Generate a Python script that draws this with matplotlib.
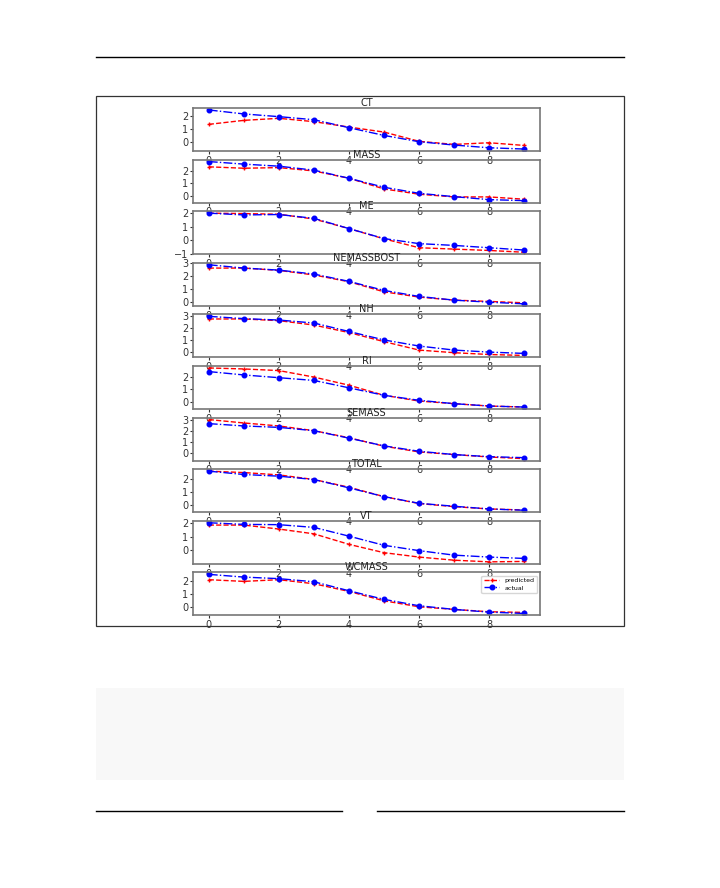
import matplotlib
matplotlib.use("Agg")
import matplotlib.pyplot as plt
from matplotlib.ticker import MultipleLocator
from matplotlib.lines import Line2D
from matplotlib.patches import Rectangle
import numpy as np

# Dados (10 passos por série)
steps = list(range(10))
names = ["CT", "MASS", "ME", "NEMASSBOST", "NH", "RI", "SEMASS", "TOTAL", "VT", "WCMASS"]

actual_ct = [2.47, 2.16, 1.95, 1.71, 1.09, 0.49, 0.0, -0.26, -0.47, -0.57]
pred_ct = [1.35, 1.66, 1.82, 1.56, 1.14, 0.75, 0.03, -0.21, -0.08, -0.29]
actual_mass = [2.70, 2.50, 2.34, 2.03, 1.40, 0.70, 0.23, -0.03, -0.26, -0.34]
pred_mass = [2.29, 2.18, 2.23, 1.97, 1.40, 0.57, 0.16, -0.05, -0.05, -0.23]
actual_me = [1.98, 1.85, 1.88, 1.60, 0.85, 0.12, -0.25, -0.38, -0.55, -0.72]
pred_me = [1.98, 1.95, 1.90, 1.55, 0.85, 0.10, -0.55, -0.65, -0.75, -0.88]
actual_nemassbost = [2.90, 2.64, 2.48, 2.17, 1.60, 0.89, 0.42, 0.13, -0.03, -0.16]
pred_nemassbost = [2.64, 2.64, 2.46, 2.10, 1.57, 0.78, 0.37, 0.13, 0.03, -0.08]
actual_nh = [2.97, 2.78, 2.66, 2.41, 1.70, 0.99, 0.48, 0.14, -0.03, -0.14]
pred_nh = [2.75, 2.75, 2.61, 2.24, 1.61, 0.85, 0.14, -0.08, -0.23, -0.31]
actual_ri = [2.41, 2.14, 1.92, 1.70, 1.11, 0.51, 0.11, -0.16, -0.35, -0.43]
pred_ri = [2.70, 2.62, 2.49, 1.97, 1.32, 0.51, 0.05, -0.16, -0.35, -0.43]
actual_semass = [2.63, 2.42, 2.29, 1.99, 1.31, 0.61, 0.12, -0.18, -0.37, -0.46]
pred_semass = [3.00, 2.69, 2.42, 1.99, 1.35, 0.58, 0.06, -0.18, -0.40, -0.55]
actual_total = [2.60, 2.34, 2.21, 1.95, 1.30, 0.62, 0.10, -0.13, -0.34, -0.44]
pred_total = [2.60, 2.49, 2.31, 1.95, 1.35, 0.62, 0.08, -0.16, -0.34, -0.42]
actual_vt = [2.02, 1.90, 1.88, 1.68, 1.04, 0.37, -0.02, -0.35, -0.49, -0.59]
pred_vt = [1.85, 1.85, 1.56, 1.21, 0.44, -0.17, -0.49, -0.72, -0.84, -0.81]
actual_wcmass = [2.54, 2.33, 2.21, 1.97, 1.28, 0.62, 0.13, -0.15, -0.36, -0.46]
pred_wcmass = [2.13, 2.00, 2.13, 1.82, 1.23, 0.51, 0.05, -0.15, -0.33, -0.38]

actuals = [actual_ct, actual_mass, actual_me, actual_nemassbost, actual_nh,
           actual_ri, actual_semass, actual_total, actual_vt, actual_wcmass]
preds = [pred_ct, pred_mass, pred_me, pred_nemassbost, pred_nh,
         pred_ri, pred_semass, pred_total, pred_vt, pred_wcmass]

W, H = 720, 888
fig = plt.figure(figsize=(W / 100, H / 100), dpi=100)


def fx(px):
    return px / W


def fy(py):
    return 1 - py / H


# Elementos da página (linha do cabeçalho, moldura, caixa cinza, rodapé)
fig.add_artist(Line2D([fx(96), fx(624)], [fy(57), fy(57)], color="black", lw=1.0))
fig.add_artist(Rectangle((fx(96), fy(626)), fx(624) - fx(96), fy(96) - fy(626),
                         fill=False, edgecolor="#333333", lw=0.9))
fig.add_artist(Rectangle((fx(96), fy(780)), fx(624) - fx(96), fy(688) - fy(780),
                         facecolor="#f8f8f8", edgecolor="none"))
fig.add_artist(Line2D([fx(96), fx(342)], [fy(811), fy(811)], color="black", lw=1.0))
fig.add_artist(Line2D([fx(377), fx(624)], [fy(811), fy(811)], color="black", lw=1.0))

# Subgráficos
left, right = 193, 540
top0, pitch, h = 108, 51.6, 43
for i, name in enumerate(names):
    top = top0 + i * pitch
    ax = fig.add_axes([fx(left), fy(top + h), fx(right) - fx(left), h / H])
    ax.patch.set_alpha(0)
    ax.plot(steps, preds[i], color="red", linestyle="--", marker="+",
            markersize=3, lw=1.0, label="predicted")
    ax.plot(steps, actuals[i], color="blue", linestyle="-.", marker="o",
            markersize=3.3, lw=1.0, label="actual")
    ax.set_title(name, fontsize=7, pad=1.0, color="#222222")
    ax.xaxis.set_major_locator(MultipleLocator(2))
    ax.yaxis.set_major_locator(MultipleLocator(1))
    ax.tick_params(labelsize=7, length=2.5, width=0.8, pad=1.0,
                   colors="#333333")
    for sp in ax.spines.values():
        sp.set_color("#777777")
        sp.set_linewidth(1.2)
    if i == len(names) - 1:
        ax.legend(loc="upper right", fontsize=4.5, handlelength=2.5,
                  borderpad=0.4, labelspacing=0.3)

fig.savefig("out.png", dpi=100)
